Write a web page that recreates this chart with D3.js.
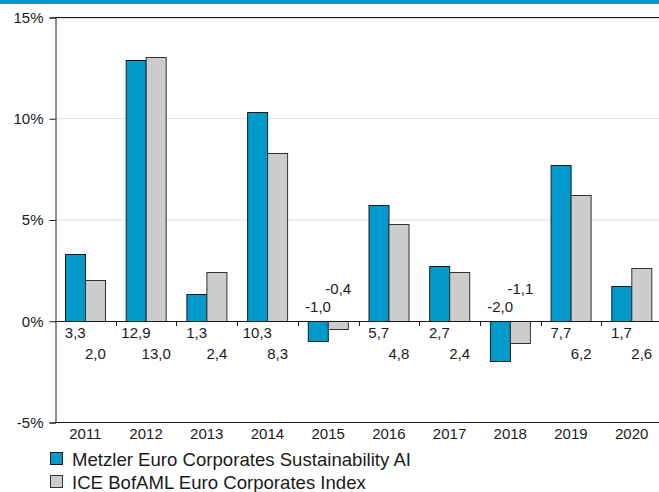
<!DOCTYPE html>
<html lang="en">
  <head>
    <meta charset="UTF-8" />
    <title>Metzler Euro Corporates Sustainability</title>
    <style>
      body {
        margin: 0;
        padding: 0;
        background-color: #ffffff;
        font-family: "Liberation Sans", Arial, sans-serif;
      }
      #chart {
        width: 659px;
        height: 492px;
      }
    </style>
  </head>
  <body>
    <div id="chart"></div>

    <script src="https://d3js.org/d3.v7.min.js"></script>
    <script>
      const years = ["2011", "2012", "2013", "2014", "2015", "2016", "2017", "2018", "2019", "2020"];
      const metzler = [3.3, 12.9, 1.3, 10.3, -1.0, 5.7, 2.7, -2.0, 7.7, 1.7];
      const ice = [2.0, 13.0, 2.4, 8.3, -0.4, 4.8, 2.4, -1.1, 6.2, 2.6];
      const seriesNames = [
        "Metzler Euro Corporates Sustainability AI",
        "ICE BofAML Euro Corporates Index",
      ];
      const yTicks = [-5, 0, 5, 10, 15];

      const colors = ["#0099cc", "#cccccc"];
      const strokes = ["#1b1b1b", "#333333"];

      const width = 659,
        height = 492;
      const plotLeft = 55,
        plotRight = 662;

      const svg = d3
        .select("#chart")
        .append("svg")
        .attr("width", width)
        .attr("height", height);

      // blue band at top
      svg.append("rect")
        .attr("x", 0).attr("y", 0)
        .attr("width", width).attr("height", 4)
        .attr("fill", "#0099cc");

      const x = d3.scaleBand().domain(years).range([plotLeft, plotRight]);
      const inner = d3
        .scaleBand()
        .domain([0, 1])
        .range([x.bandwidth() / 6, (x.bandwidth() * 5) / 6]);
      const y = d3.scaleLinear().domain([-5, 15]).range([422, 17]);

      // grid lines
      svg.append("g")
        .selectAll("line")
        .data([5, 10, 15])
        .join("line")
        .attr("x1", plotLeft).attr("x2", width)
        .attr("y1", (d) => y(d) + 0.5 + (d === 15 ? 1 : 0))
        .attr("y2", (d) => y(d) + 0.5 + (d === 15 ? 1 : 0))
        .attr("stroke", "#dddddd");

      // bars
      const data = years.map((yr, i) => ({ yr, vals: [metzler[i], ice[i]] }));
      const groups = svg.append("g")
        .selectAll("g")
        .data(data)
        .join("g")
        .attr("transform", (d) => `translate(${x(d.yr)},0)`);

      groups
        .selectAll("rect")
        .data((d) => d.vals.map((v, k) => ({ v, k })))
        .join("rect")
        .attr("x", (d) => Math.round(inner(d.k)) + 0.5)
        .attr("y", (d) => Math.round(y(Math.max(0, d.v))) + 0.5)
        .attr("width", Math.round(inner.bandwidth()))
        .attr("height", (d) => Math.abs(Math.round(y(d.v)) - Math.round(y(0))))
        .attr("fill", (d) => colors[d.k])
        .attr("stroke", (d) => strokes[d.k])
        .attr("stroke-width", 1);

      // value labels
      const fmt = (v) => v.toFixed(1).replace(".", ",");
      groups
        .selectAll("text")
        .data((d) => d.vals.map((v, k) => ({ v, k })))
        .join("text")
        .attr("x", (d) => inner(d.k) + inner.bandwidth() / 2)
        .attr("y", (d) => {
          if (d.v >= 0) return d.k === 0 ? 338 : 359;
          return d.k === 0 ? 312 : 294;
        })
        .attr("text-anchor", "middle")
        .attr("font-size", 15)
        .attr("fill", "#1a1a1a")
        .text((d) => fmt(d.v));

      // axes frame
      const axisColor = "#1a1a1a";
      svg.append("line")
        .attr("x1", plotLeft).attr("x2", width)
        .attr("y1", y(15) + 0.5).attr("y2", y(15) + 0.5)
        .attr("stroke", axisColor);
      svg.append("line")
        .attr("x1", plotLeft).attr("x2", width)
        .attr("y1", y(-5) + 0.5).attr("y2", y(-5) + 0.5)
        .attr("stroke", axisColor);
      svg.append("line")
        .attr("x1", plotLeft).attr("x2", width)
        .attr("y1", Math.round(y(0)) + 0.5).attr("y2", Math.round(y(0)) + 0.5)
        .attr("stroke", axisColor);

      // tick marks on zero line between categories
      svg.append("g")
        .selectAll("line")
        .data(years.slice(1))
        .join("line")
        .attr("x1", (d) => Math.round(x(d)) + 0.5)
        .attr("x2", (d) => Math.round(x(d)) + 0.5)
        .attr("y1", Math.round(y(0)))
        .attr("y2", Math.round(y(0)) + 5)
        .attr("stroke", axisColor);

      // y axis
      const yAxis = d3
        .axisLeft(y)
        .tickValues(yTicks)
        .tickSize(6)
        .tickPadding(6)
        .tickFormat((d) => d + "%");
      const gy = svg.append("g")
        .attr("transform", `translate(${plotLeft + 0.5},0.5)`)
        .call(yAxis);
      gy.select(".domain").attr("stroke", axisColor);
      gy.selectAll(".tick line").attr("stroke", axisColor);
      gy.selectAll("text")
        .attr("font-family", "Liberation Sans, Arial, sans-serif")
        .attr("font-size", 15)
        .attr("fill", "#1a1a1a");

      // x labels
      svg.append("g")
        .selectAll("text")
        .data(years)
        .join("text")
        .attr("x", (d) => x(d) + x.bandwidth() / 2)
        .attr("y", 439)
        .attr("text-anchor", "middle")
        .attr("font-size", 15)
        .attr("fill", "#1a1a1a")
        .text((d) => d);

      // legend
      const legend = svg.append("g")
        .selectAll("g")
        .data(seriesNames)
        .join("g")
        .attr("transform", (d, i) => `translate(50,${452 + i * 23})`);
      legend.append("rect")
        .attr("x", 0.5).attr("y", 0.5)
        .attr("width", 12).attr("height", 12)
        .attr("fill", (d, i) => colors[i])
        .attr("stroke", (d, i) => strokes[i]);
      legend.append("text")
        .attr("x", 22)
        .attr("y", 14)
        .attr("font-size", 18.6)
        .attr("fill", "#1a1a1a")
        .text((d) => d);
    </script>
  </body>
</html>
